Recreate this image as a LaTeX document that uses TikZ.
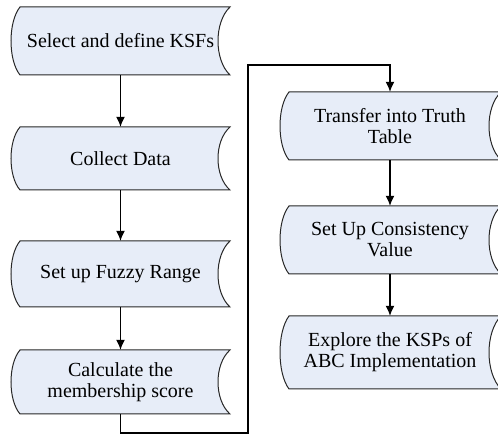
\documentclass[tikz,border=0pt]{standalone}
\usepackage{fontspec}
\setmainfont{Liberation Serif}
\usetikzlibrary{arrows.meta}
\definecolor{boxfill}{RGB}{231,237,248}
\definecolor{boxedge}{RGB}{40,40,40}
\tikzset{
  boxline/.style={draw=boxedge, fill=boxfill, line width=1pt},
  txt/.style={inner sep=0pt, align=center, font=\fontsize{20}{21}\selectfont},
  conn/.style={draw=black, line width=1.2pt},
  arr/.style={conn, -{Latex[length=10pt,width=9pt]}},
}
% name, left corner x, right corner x, top y, bottom y, centre x, text
\newcommand\sdbox[7]{%
  \pgfmathsetmacro\sdH{#5-#4}%
  \pgfmathsetmacro\sdY{(#4+#5)/2}%
  \pgfmathsetmacro\sdQa{#4+\sdH*0.22}%
  \pgfmathsetmacro\sdQb{#5-\sdH*0.22}%
  \pgfmathsetmacro\sdRa{#3-16}%
  \pgfmathsetmacro\sdLa{#2-12}%
  \draw[boxline] (#2,#4) -- (#3,#4) .. controls (\sdRa,\sdQa) and (\sdRa,\sdQb) .. (#3,#5)
     -- (#2,#5) .. controls (\sdLa,\sdQb) and (\sdLa,\sdQa) .. cycle;
  \node[txt, minimum height=\sdH pt] (#1) at (#6,\sdY) {#7};
}
\begin{document}
\begin{tikzpicture}[x=1pt,y=-1pt]
\useasboundingbox (0,0) rectangle (498,435);
\clip (0,0) rectangle (498,435);
\sdbox{b1}{20}{230}{7}{75}{120.5}{Select and define KSFs}
\sdbox{b2}{20}{230}{127}{190}{120.5}{Collect Data}
\sdbox{b3}{20}{230}{241}{307}{120.5}{Set up Fuzzy Range}
\sdbox{b4}{20}{230}{350}{414}{120.5}{Calculate the\\membership score}
\sdbox{b5}{289}{501}{92}{160}{390}{Transfer into Truth\\Table}
\sdbox{b6}{289}{501}{206}{274}{390}{Set Up Consistency\\Value}
\sdbox{b7}{289}{501}{316}{389}{390}{Explore the KSPs of\\ABC Implementation}
\coordinate (c1) at (248,433);
\coordinate (c2) at (248,65);
\draw[arr] (b1.south) -- (b2.north);
\draw[arr] (b2.south) -- (b3.north);
\draw[arr] (b3.south) -- (b4.north);
\draw[arr] (b4.south) |- (c1) -- (c2) -| (b5.north);
\draw[arr] (b5.south) -- (b6.north);
\draw[arr] (b6.south) -- (b7.north);
\end{tikzpicture}
\end{document}
